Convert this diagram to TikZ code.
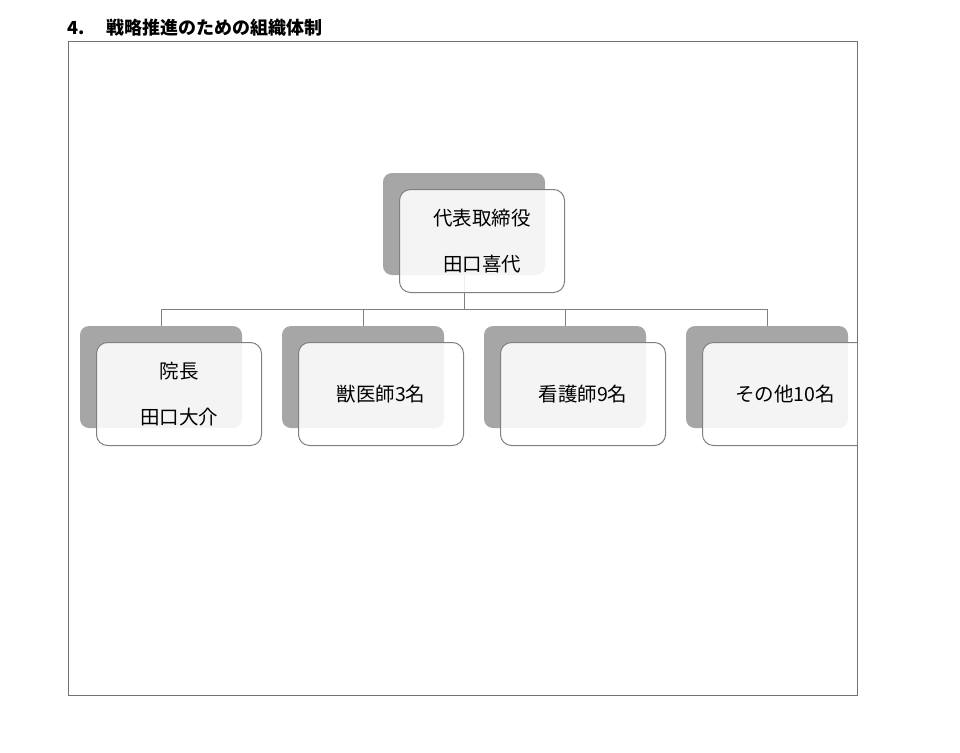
\documentclass[tikz,border=0pt]{standalone}
\usepackage{fontspec}
\setmainfont{Noto Sans CJK JP}
\begin{document}
\begin{tikzpicture}[x=1pt, y=-1pt,
	back/.style={fill=black!35, rounded corners=9pt, minimum width=162pt, minimum height=102pt, inner sep=0pt},
	front/.style={draw=black!50, line width=1pt, fill=white, fill opacity=0.88, text opacity=1, rounded corners=11pt, minimum width=165pt, minimum height=103pt, align=center, font=\fontsize{19.5}{46}\selectfont, inner sep=0pt},
	link/.style={draw=black!50, line width=1pt}]
	\useasboundingbox (0,0) rectangle (960,752);
	\node[anchor=base west, font=\bfseries\fontsize{18}{20}\selectfont] (title) at (64,35) {4.\hspace{22pt}戦略推進のための組織体制};
	\draw[black!55, line width=1pt] (68,42) rectangle (857,695);
	\begin{scope}
	\clip (68,42) rectangle (857,695);
	\node[back] (ceob) at (464,224) {};
	\node[back] (dirb) at (161,377) {};
	\node[back] (vetb) at (363,377) {};
	\node[back] (nurb) at (565,377) {};
	\node[back] (othb) at (767,377) {};
	\coordinate (bus) at (464,309);
	
	\draw[link] (ceob.south) -- (bus);
	\draw[link] (dirb.north) |- (bus);
	\draw[link] (vetb.north) |- (bus);
	\draw[link] (nurb.north) |- (bus);
	\draw[link] (othb.north) |- (bus);
	
	\node[front] (ceo) at (482,241) {代表取締役\\田口喜代};
	\node[front] (dir) at (179,394) {院長\\田口大介};
	\node[front] (vet) at (381,394) {獣医師3名};
	\node[front] (nur) at (583,394) {看護師9名};
	\node[front] (oth) at (785,394) {その他10名};
	\end{scope}
\end{tikzpicture}
\end{document}
